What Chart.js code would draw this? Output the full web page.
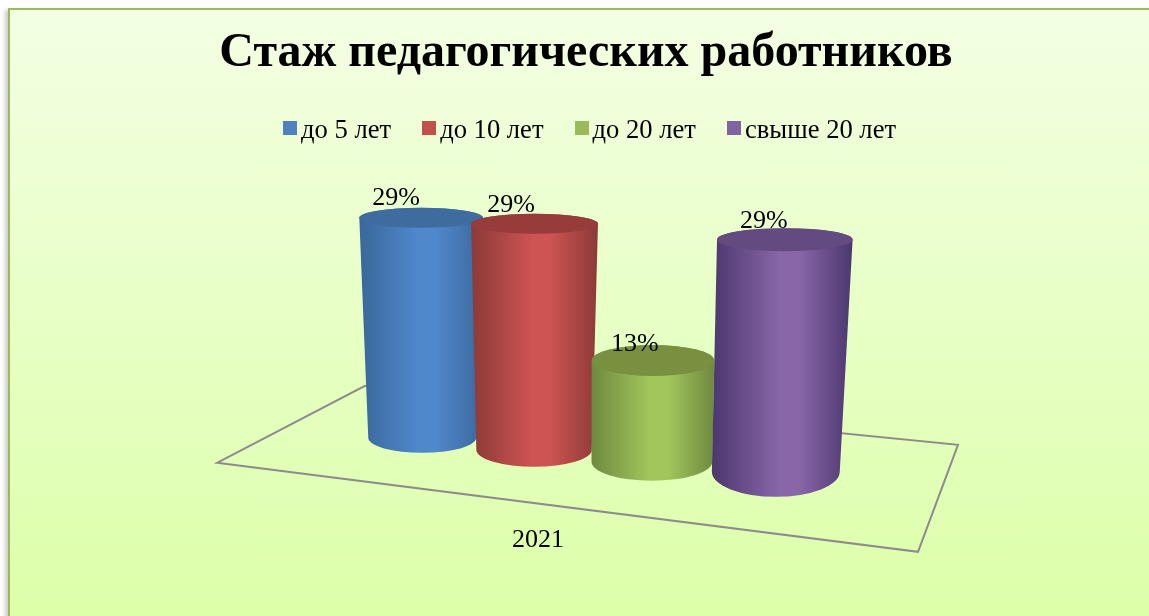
<!DOCTYPE html>
<html lang="ru">
<head>
<meta charset="utf-8">
<title>Стаж педагогических работников</title>
<script src="https://cdn.jsdelivr.net/npm/chart.js@4"></script>
<style>
  html, body { margin: 0; height: 100%; background: #fff; overflow: hidden; }
  #panel {
    position: absolute; left: 8px; top: 8px; width: 1200px; height: 620px;
    box-sizing: border-box; border: 2px solid #9bbb59;
    background: linear-gradient(#f3ffe3 0%, #dcffa8 100%);
    box-shadow: -3px 2px 4px rgba(0, 0, 0, 0.2);
  }
  #wrap { position: absolute; left: 11px; top: 0; width: 1150px; height: 640px; }
  #legend {
    position: absolute; left: 283px; top: 112px; display: flex; gap: 31px;
    font: 26.6px "Liberation Serif", serif; color: #000; white-space: nowrap;
  }
  #legend span.item { display: flex; align-items: center; gap: 4px; line-height: 34px; }
  #legend i { display: block; width: 14px; height: 14px; margin-top: -2px; }
</style>
</head>
<body>
<div id="panel"></div>
<div id="wrap"><canvas id="chart"></canvas></div>
<div id="legend"></div>
<script>
const titleText = 'Стаж педагогических работников';
const categories = ['2021'];
const seriesNames = ['до 5 лет', 'до 10 лет', 'до 20 лет', 'свыше 20 лет'];
const seriesValues = [29, 29, 13, 29];

const seriesColors = ['#4f81bd', '#c0504d', '#9bbb59', '#8064a2'];
// side edge, side highlight, top cap
const cylinderShades = [
  ['#3a679b', '#5088cc', '#3f6c9e'],
  ['#8c3a38', '#cd5452', '#973c3b'],
  ['#6e8a40', '#a3c65c', '#789040'],
  ['#4b376e', '#8866a8', '#634b80']
];
// Fake 3D camera: how each bar slot is displaced and widened on the floor
const perspective = [
  { baseDx: 13, baseDy: -12, grow: 0.973, topDx: 12, baseRx: 0.915, topRx: 1.05, baseRy: 15, topRy: 10, labelDx: -25, labelDy: -20 },
  { baseDx: 7, baseDy: 0, grow: 1, topDx: 7.5, baseRx: 0.98, topRx: 1.076, baseRy: 17, topRy: 10, labelDx: -23.5, labelDy: -19 },
  { baseDx: 7, baseDy: 12, grow: 1, topDx: 8, baseRx: 1.025, topRx: 1.04, baseRy: 19, topRy: 15.5, labelDx: -18, labelDy: -16 },
  { baseDx: 13, baseDy: 22, grow: 1.027, topDx: 22, baseRx: 1.085, topRx: 1.15, baseRy: 25, topRy: 11.5, labelDx: -21, labelDy: -18 }
];
// Floor corners, relative to the category centre and the zero line
const floorCorners = [[-369, 13], [332, 102], [372, -5], [-221, -64]];

/**
 * Draw one cylinder from a bar element
 * @param {CanvasRenderingContext2D} ctx - Canvas context
 * @param {Object} bar - Bar element of the dataset
 * @param {number} zeroY - Pixel of value 0
 * @param {number} index - Dataset index
 * @returns {Object} Anchor of the value label
 */
function drawCylinder(ctx, bar, zeroY, index) {
  const p = perspective[index];
  const shades = cylinderShades[index];
  const half = bar.width / 2;
  const baseX = bar.x + p.baseDx;
  const baseY = zeroY + p.baseDy;
  const topX = bar.x + p.topDx;
  const topY = baseY - (zeroY - bar.y) * p.grow;
  const baseRx = half * p.baseRx;
  const topRx = half * p.topRx;

  const left = Math.min(topX - topRx, baseX - baseRx);
  const right = Math.max(topX + topRx, baseX + baseRx);
  const side = ctx.createLinearGradient(left, 0, right, 0);
  side.addColorStop(0, shades[0]);
  side.addColorStop(0.48, shades[1]);
  side.addColorStop(0.62, shades[1]);
  side.addColorStop(1, shades[0]);

  ctx.beginPath();
  ctx.moveTo(topX - topRx, topY);
  ctx.lineTo(baseX - baseRx, baseY);
  ctx.ellipse(baseX, baseY, baseRx, p.baseRy, 0, Math.PI, 0, true);
  ctx.lineTo(topX + topRx, topY);
  ctx.ellipse(topX, topY, topRx, p.topRy, 0, 0, Math.PI, true);
  ctx.closePath();
  ctx.fillStyle = side;
  ctx.fill();

  ctx.beginPath();
  ctx.ellipse(topX, topY, topRx, p.topRy, 0, 0, Math.PI * 2);
  ctx.fillStyle = shades[2];
  ctx.fill();

  return { x: topX + p.labelDx, y: topY + p.labelDy };
}

// Replaces the flat bars with the floor, the cylinders and their labels
const cylinderPlugin = {
  id: 'cylinders',
  beforeDatasetsDraw(chart) {
    const { ctx, scales } = chart;
    const zeroY = scales.y.getPixelForValue(0);
    const centerX = scales.x.getPixelForTick(0);

    ctx.save();
    ctx.beginPath();
    floorCorners.forEach(([dx, dy], i) => {
      const x = centerX + dx;
      const y = zeroY + dy;
      if (i === 0) ctx.moveTo(x, y); else ctx.lineTo(x, y);
    });
    ctx.closePath();
    ctx.strokeStyle = '#8c8c8c';
    ctx.lineWidth = 2;
    ctx.stroke();

    const labels = chart.data.datasets.map((dataset, i) => {
      const bar = chart.getDatasetMeta(i).data[0];
      return { text: `${dataset.data[0]}%`, pos: drawCylinder(ctx, bar, zeroY, i) };
    });

    ctx.fillStyle = '#000';
    ctx.font = '26px "Liberation Serif", serif';
    ctx.textAlign = 'center';
    ctx.textBaseline = 'middle';
    labels.forEach(l => ctx.fillText(l.text, l.pos.x, l.pos.y));
    ctx.restore();
    return false;
  }
};

const chart = new Chart(document.getElementById('chart'), {
  type: 'bar',
  data: {
    labels: categories,
    datasets: seriesNames.map((name, i) => ({
      label: name,
      data: [seriesValues[i]],
      backgroundColor: seriesColors[i]
    }))
  },
  plugins: [cylinderPlugin],
  options: {
    responsive: true,
    maintainAspectRatio: false,
    animation: false,
    layout: { padding: { top: 0, bottom: 17 } },
    datasets: { bar: { barPercentage: 1, categoryPercentage: 0.41 } },
    scales: {
      x: {
        grid: { display: false },
        border: { display: false },
        ticks: {
          color: '#000',
          padding: 67,
          labelOffset: -48,
          font: { family: '"Liberation Serif", serif', size: 26 }
        }
      },
      y: { display: false, min: 0, max: 40 }
    },
    plugins: {
      legend: { display: false },
      tooltip: { enabled: false },
      title: {
        display: true,
        text: titleText,
        color: '#000',
        font: { family: '"Liberation Serif", serif', size: 48, weight: 'bold' },
        padding: { top: 25, bottom: 55.4 }
      }
    }
  }
});

// Legend as markup so the swatch can sit close to its text
document.getElementById('legend').innerHTML = chart.data.datasets
  .map(d => `<span class="item"><i style="background:${d.backgroundColor}"></i>${d.label}</span>`)
  .join('');
</script>
</body>
</html>
